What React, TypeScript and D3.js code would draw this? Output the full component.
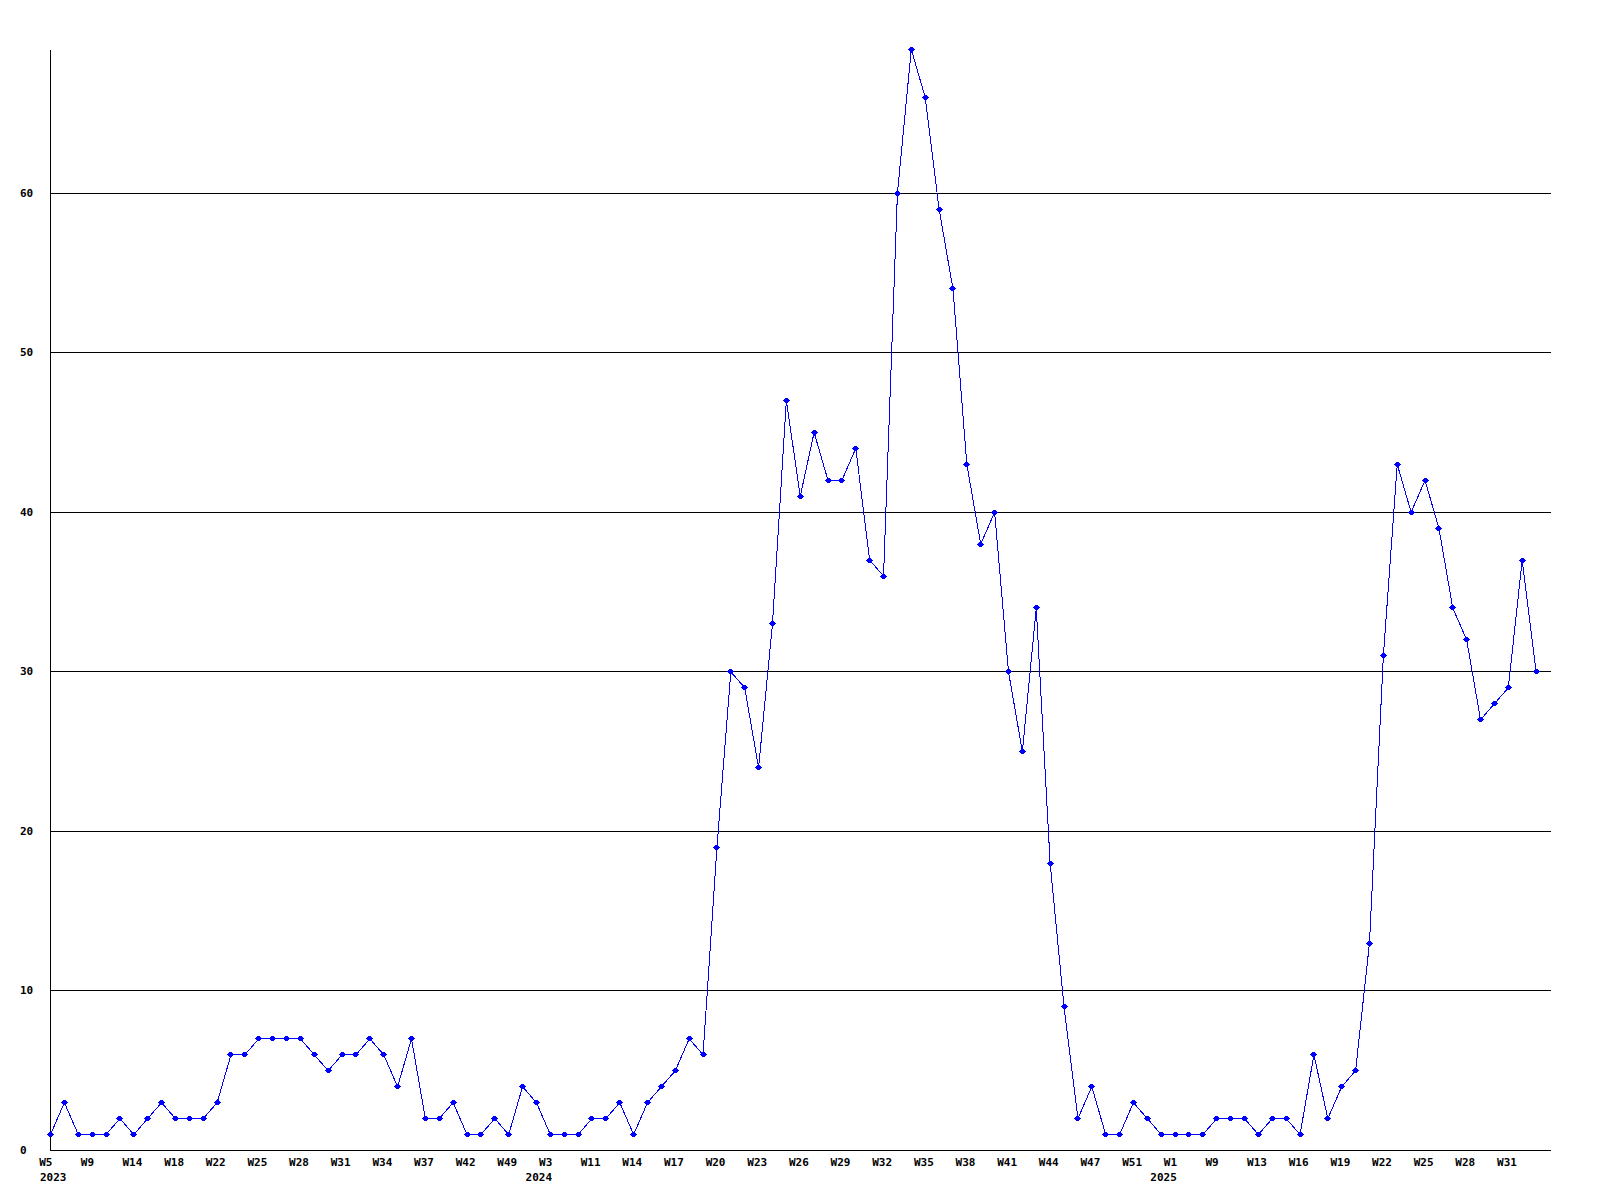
import React from "react";
import * as d3 from "d3";

// Weekly values, one per category (108 points)
const values: number[] = [
  1, 3, 1, 1, 1, 2, 1, 2, 3, 2, 2, 2, 3, 6, 6, 7, 7, 7, 7, 6,
  5, 6, 6, 7, 6, 4, 7, 2, 2, 3, 1, 1, 2, 1, 4, 3, 1, 1, 1, 2,
  2, 3, 1, 3, 4, 5, 7, 6, 19, 30, 29, 24, 33, 47, 41, 45, 42, 42, 44, 37,
  36, 60, 69, 66, 59, 54, 43, 38, 40, 30, 25, 34, 18, 9, 2, 4, 1, 1, 3, 2,
  1, 1, 1, 1, 2, 2, 2, 1, 2, 2, 1, 6, 2, 4, 5, 13, 31, 43, 40, 42,
  39, 34, 32, 27, 28, 29, 37, 30,
];

// Tick labels, one every third category
const weekTicks: string[] = [
  "W5", "W9", "W14", "W18", "W22", "W25", "W28", "W31", "W34", "W37", "W42", "W49",
  "W3", "W11", "W14", "W17", "W20", "W23", "W26", "W29", "W32", "W35", "W38", "W41",
  "W44", "W47", "W51", "W1", "W9", "W13", "W16", "W19", "W22", "W25", "W28", "W31",
];
const tickEvery = 3;

// Year labels and the tick they sit under
const yearLabels: string[] = ["2023", "2024", "2025"];
const yearTickIndex: number[] = [0, 12, 27];

const yTicks: number[] = [0, 10, 20, 30, 40, 50, 60];
const yMax = 69;

const FONT = "'DejaVu Sans Mono', monospace";
const CHAR_W = 6.62;

export default function App() {
  const left = 50.5;
  const right = 1551;
  const top = 49.5;
  const bottom = 1150.5;

  const x = d3.scaleLinear().domain([0, values.length]).range([left, left + values.length * 13.884]);
  const y = d3.scaleLinear().domain([0, yMax]).range([bottom, top]);

  const line = d3
    .line<number>()
    .x((_, i) => x(i))
    .y((d) => y(d));

  const marker = (cx: number, cy: number) => {
    const px = Math.round(cx - 0.5);
    const py = Math.round(cy - 0.5);
    return `M${px - 1},${py - 2}h3v1h1v1h1v1h-1v1h-1v1h-3v-1h-1v-1h-1v-1h1v-1h1z`;
  };

  return (
    <svg
      width={1600}
      height={1200}
      style={{ position: "absolute", left: 0, top: 0, background: "#fff" }}
    >
      <rect x={0} y={0} width={1600} height={1200} fill="#fff" />
      {yTicks.map((t) => (
        <g key={"g" + t}>
          <line
            x1={left}
            x2={right}
            y1={y(t)}
            y2={y(t)}
            stroke="#000"
            strokeWidth={1}
            shapeRendering="crispEdges"
          />
          <text
            x={20}
            y={y(t) + 3.5}
            fontFamily={FONT}
            fontWeight="bold"
            fontSize={11}
            fill="#000"
          >
            {t}
          </text>
        </g>
      ))}
      <line
        x1={left}
        x2={left}
        y1={top}
        y2={bottom}
        stroke="#000"
        strokeWidth={1}
        shapeRendering="crispEdges"
      />
      <path
        d={line(values) || ""}
        fill="none"
        stroke="#0000ff"
        strokeWidth={1}
        shapeRendering="crispEdges"
      />
      {values.map((v, i) => (
        <path key={"m" + i} d={marker(x(i), y(v))} fill="#0000ff" shapeRendering="crispEdges" />
      ))}
      {weekTicks.map((w, k) => (
        <text
          key={"w" + k}
          x={x(k * tickEvery) - 11.3}
          y={1166.3}
          fontFamily={FONT}
          fontWeight="bold"
          fontSize={11}
          fill="#000"
        >
          {w}
        </text>
      ))}
      {yearLabels.map((yr, k) => {
        const half = (yr.length * CHAR_W) / 2;
        const center = Math.max(x(yearTickIndex[k] * tickEvery) - 11.5, 40 + half);
        return (
          <text
            key={"y" + k}
            x={center}
            y={1181.3}
            textAnchor="middle"
            fontFamily={FONT}
            fontWeight="bold"
            fontSize={11}
            fill="#000"
          >
            {yr}
          </text>
        );
      })}
    </svg>
  );
}
